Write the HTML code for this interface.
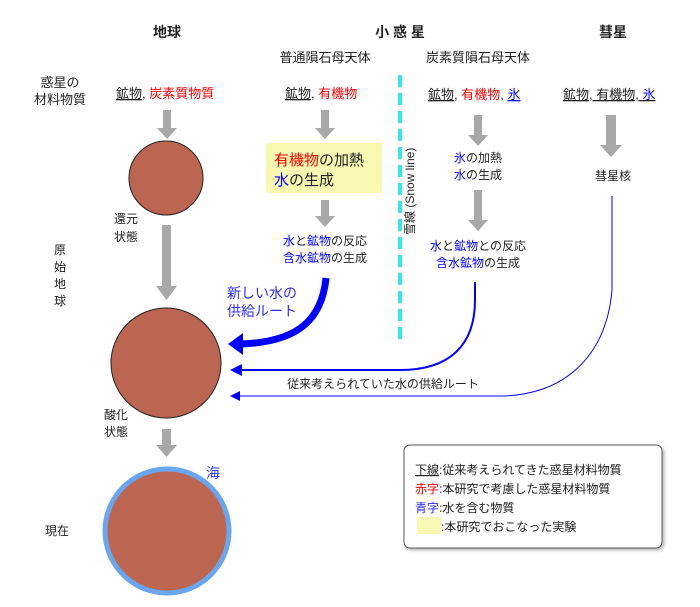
<!DOCTYPE html>
<html><head><meta charset="utf-8"><style>
body{margin:0;background:#fff}
svg text{font-family:"Liberation Sans","Noto Sans CJK JP",sans-serif;}
</style></head><body>
<svg width="700" height="602" viewBox="0 0 700 602" xmlns="http://www.w3.org/2000/svg">
<defs>
<filter id="sh" x="-5%" y="-5%" width="115%" height="120%"><feDropShadow dx="2" dy="2" stdDeviation="1.5" flood-color="#888" flood-opacity="0.6"/></filter>
</defs>
<g font-size="14" text-anchor="middle" fill="#222" font-weight="bold">
<text x="167" y="37">地球</text>
<text x="400" y="37">小 惑 星</text>
<text x="613" y="37">彗星</text>
</g>
<g font-size="13" text-anchor="middle" fill="#222">
<text x="325" y="62">普通隕石母天体</text>
<text x="478" y="62">炭素質隕石母天体</text>
<text x="60" y="87">惑星の</text>
<text x="60" y="104">材料物質</text>
</g>
<g font-size="13" fill="#222">
<text x="116" y="98"><tspan text-decoration="underline">鉱物</tspan>, <tspan fill="#ff0000">炭素質物質</tspan></text>
<text x="285" y="98"><tspan text-decoration="underline">鉱物</tspan>, <tspan fill="#ff0000">有機物</tspan></text>
<text x="428" y="99"><tspan text-decoration="underline">鉱物</tspan>, <tspan fill="#ff0000">有機物</tspan>, <tspan fill="#0000ff" text-decoration="underline">氷</tspan></text>
<text x="563" y="99" text-decoration="underline">鉱物, 有機物, <tspan fill="#0000ff">氷</tspan></text>
</g>
<g fill="#a8a8a8">
<path d="M163,110 h8 v18 h6 l-10,11 l-10,-11 h6z"/>
<path d="M321,110 h8 v18 h6 l-10,11 l-10,-11 h6z"/>
<path d="M474,115 h8 v20 h6 l-10,11 l-10,-11 h6z"/>
<path d="M606,115 h10 v30 h6 l-11,12 l-11,-12 h6z"/>
<path d="M321,200 h8 v16 h6 l-10,11 l-10,-11 h6z"/>
<path d="M474,190 h8 v30 h6 l-10,11 l-10,-11 h6z"/>
<path d="M162,225 h9 v61 h6 l-10.5,14 l-10.5,-14 h6z"/>
<path d="M162,429 h9 v16 h6 l-10.5,12 l-10.5,-12 h6z"/>
</g>
<ellipse cx="166" cy="178" rx="37" ry="37" fill="#bc6550" stroke="#222" stroke-width="1"/>
<ellipse cx="166" cy="363" rx="55" ry="55" fill="#bc6550" stroke="#222" stroke-width="1"/>
<ellipse cx="167" cy="531" rx="62" ry="62" fill="#bc6550" stroke="#6aa6ef" stroke-width="5"/>
<g font-size="12" fill="#222">
<text x="114" y="223">還元</text><text x="114" y="241">状態</text>
<text x="104" y="419">酸化</text><text x="104" y="436">状態</text>
<text x="45" y="535">現在</text>
</g>
<g font-size="12" fill="#222" text-anchor="middle">
<text x="60" y="254">原</text><text x="60" y="271">始</text><text x="60" y="288">地</text><text x="60" y="305">球</text>
</g>
<text x="206" y="478" font-size="14" fill="#2b3fff">海</text>
<rect x="266" y="143" width="116" height="50" rx="3" fill="#f7f9b3"/>
<text x="274" y="165" font-size="15"><tspan fill="#ff0000">有機物</tspan><tspan fill="#222">の加熱</tspan></text>
<text x="274" y="185" font-size="15"><tspan fill="#0000ff">水</tspan><tspan fill="#222">の生成</tspan></text>
<g font-size="12" text-anchor="middle">
<text x="325" y="245"><tspan fill="#0000ff">水</tspan><tspan fill="#222">と</tspan><tspan fill="#0000ff">鉱物</tspan><tspan fill="#222">の反応</tspan></text>
<text x="325" y="262"><tspan fill="#0000ff">含水鉱物</tspan><tspan fill="#222">の生成</tspan></text>
<text x="478" y="162"><tspan fill="#0000ff">氷</tspan><tspan fill="#222">の加熱</tspan></text>
<text x="478" y="179"><tspan fill="#0000ff">水</tspan><tspan fill="#222">の生成</tspan></text>
<text x="478" y="250"><tspan fill="#0000ff">水</tspan><tspan fill="#222">と</tspan><tspan fill="#0000ff">鉱物</tspan><tspan fill="#222">との反応</tspan></text>
<text x="478" y="267"><tspan fill="#0000ff">含水鉱物</tspan><tspan fill="#222">の生成</tspan></text>
<text x="613" y="180" fill="#222">彗星核</text>
</g>
<line x1="400" y1="75" x2="400" y2="345" stroke="#33e6ee" stroke-width="4" stroke-dasharray="12,6"/>
<text transform="translate(414,235) rotate(-90)" font-size="12" fill="#222">雪線 (Snow line)</text>
<path d="M326,278 C322,318 300,342 241,344" fill="none" stroke="#0000ff" stroke-width="7"/>
<path d="M228,344 L243,333 L243,355 Z" fill="#0000ff"/>
<text x="262" y="298" font-size="14" fill="#2b2bff" text-anchor="middle">新しい水の</text>
<text x="262" y="316" font-size="14" fill="#2b2bff" text-anchor="middle">供給ルート</text>
<path d="M475,282 L475,300 C475,345 450,370 400,370 L240,370" fill="none" stroke="#0000ff" stroke-width="2"/>
<path d="M230,370 L242,364 L242,376 Z" fill="#0000ff"/>
<path d="M612,196 L612,290 C606,360 560,396 500,396 L238,396" fill="none" stroke="#0000ff" stroke-width="1"/>
<path d="M230,396 L240,391 L240,401 Z" fill="#0000ff"/>
<text x="383" y="388" font-size="12" fill="#222" text-anchor="middle">従来考えられていた水の供給ルート</text>
<rect x="404" y="445" width="258" height="103" rx="6" fill="#fff" stroke="#555" stroke-width="1" filter="url(#sh)"/>
<g font-size="12" fill="#222">
<text x="415" y="474"><tspan text-decoration="underline">下線</tspan>:従来考えられてきた惑星材料物質</text>
<text x="415" y="493"><tspan fill="#ff0000">赤字</tspan>:本研究で考慮した惑星材料物質</text>
<text x="415" y="512"><tspan fill="#2b2bff">青字</tspan>:水を含む物質</text>
<text x="441" y="531">:本研究でおこなった実験</text>
</g>
<rect x="417" y="517" width="24" height="17" fill="#f7f9b3"/>
</svg>
</body></html>
